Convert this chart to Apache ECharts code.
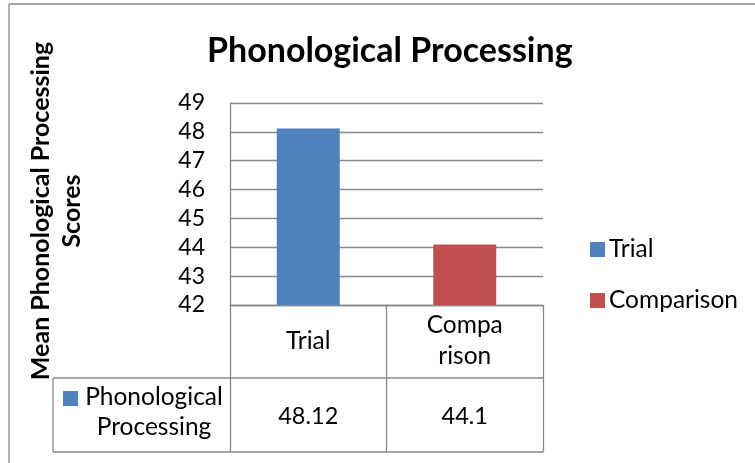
<!DOCTYPE html>
<html>
	<head>
		<meta charset="utf-8">
		<title>ECharts</title>
		<style>
		html,body { height:100%; width:100%; margin:0; padding:0; background:#fff; }
		</style>
		<script src="https://cdn.jsdelivr.net/npm/echarts@6/dist/echarts.min.js"></script>
	</head>
	<body>
		<div id="bar" style="width:755px;height:463px;"></div>
		<script type="text/javascript">
			var categories = ['Trial', 'Comparison'];
			var values = [48.12, 44.1];
			var colors = ['#4F81BD', '#C0504D'];
			var seriesName = 'Phonological Processing';
			var yTicks = [42, 43, 44, 45, 46, 47, 48, 49];

			var FONT = 'Lato';
			var LINE = '#898989';

			var myChart = echarts.init(document.getElementById('bar'));

			// one bar series per category so the legend lists them
			var series = categories.map(function (c, i) {
				var d = categories.map(function (x, j) { return j === i ? values[i] : null; });
				return {
					name: c,
					type: 'bar',
					data: d,
					barWidth: 63,
					barGap: '-100%',
					itemStyle: { color: colors[i] }
				};
			});

			var option = {
				animation: false,
				title: {
					text: seriesName,
					left: 202,
					top: 29,
					textStyle: { fontFamily: FONT, fontSize: 34, fontWeight: 'bold', color: '#000' }
				},
				legend: {
					orient: 'vertical',
					left: 585,
					top: 232,
					icon: 'rect',
					itemWidth: 15,
					itemHeight: 15,
					itemGap: 26,
					data: categories,
					textStyle: { fontFamily: FONT, fontSize: 24.5, lineHeight: 24, color: '#000', padding: [0, 0, 0, -1] }
				},
				grid: { left: 230, right: 212, top: 103, bottom: 158 },
				xAxis: {
					type: 'category',
					data: categories,
					axisLine: { show: true, lineStyle: { color: LINE, width: 1.3 } },
					axisTick: { show: true, length: 147, interval: 0, lineStyle: { color: LINE, width: 1.3 } },
					axisLabel: {
						interval: 0,
						margin: 36,
						verticalAlign: 'middle',
						fontFamily: FONT,
						fontSize: 24.5,
						lineHeight: 31,
						color: '#000',
						formatter: function (v) { return v === 'Comparison' ? 'Compa\nrison' : v; }
					}
				},
				yAxis: {
					type: 'value',
					min: yTicks[0],
					max: yTicks[yTicks.length - 1],
					interval: 1,
					axisLine: { show: true, lineStyle: { color: LINE, width: 1.3 } },
					axisTick: { show: false },
					splitLine: { lineStyle: { color: LINE, width: 1.3 } },
					axisLabel: { margin: 25, fontFamily: FONT, fontSize: 23, color: '#000' }
				},
				series: series
			};
			myChart.setOption(option);

			// data table row with values, plus axis title and outer border
			var rowTop = 378, rowBottom = 452, tableLeft = 53, tableRight = 543;
			var gr = [
				{ type: 'line', shape: { x1: 9, y1: 4, x2: 755, y2: 4 }, style: { stroke: LINE, lineWidth: 1.3 } },
				{ type: 'line', shape: { x1: 9, y1: 4, x2: 9, y2: 463 }, style: { stroke: LINE, lineWidth: 1.3 } },
				{ type: 'line', shape: { x1: tableLeft, y1: rowTop, x2: tableRight, y2: rowTop }, style: { stroke: LINE, lineWidth: 1.3 } },
				{ type: 'line', shape: { x1: tableLeft, y1: rowBottom, x2: tableRight, y2: rowBottom }, style: { stroke: LINE, lineWidth: 1.3 } },
				{ type: 'line', shape: { x1: tableLeft, y1: rowTop, x2: tableLeft, y2: rowBottom }, style: { stroke: LINE, lineWidth: 1.3 } },
				{ type: 'rect', shape: { x: 63, y: 391, width: 15, height: 15 }, style: { fill: colors[0] } },
				{ type: 'text', x: 154, y: 412, style: {
					text: 'Phonological\nProcessing', align: 'center', verticalAlign: 'middle',
					font: '24.5px ' + FONT, lineHeight: 30, fill: '#000' } },
				{ type: 'text', x: 56, y: 211, rotation: Math.PI / 2, style: {
					text: 'Mean Phonological Processing\nScores', align: 'center', verticalAlign: 'middle',
					font: 'bold 25px ' + FONT, lineHeight: 31, fill: '#000' } }
			];
			categories.forEach(function (c, i) {
				var px = myChart.convertToPixel({ gridIndex: 0 }, [i, yTicks[0]]);
				gr.push({ type: 'text', x: px[0], y: (rowTop + rowBottom) / 2 + 1, style: {
					text: String(values[i]), align: 'center', verticalAlign: 'middle',
					font: '23.5px ' + FONT, fill: '#000' } });
			});
			myChart.setOption({ graphic: gr });
		</script>
	</body>
</html>
